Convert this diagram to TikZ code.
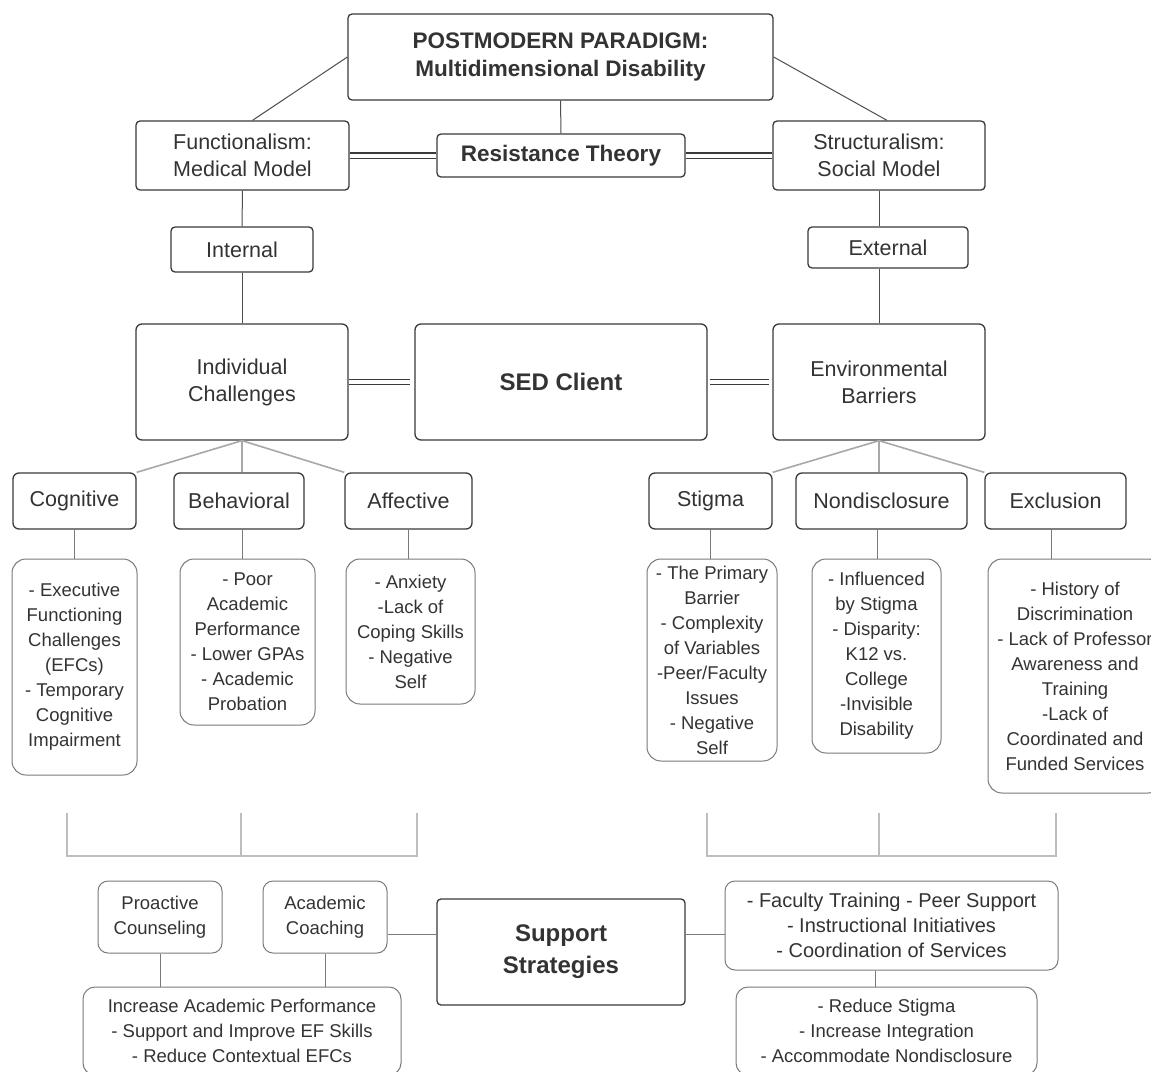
\documentclass[tikz,border=0pt]{standalone}
\usepackage{fontspec}
\setmainfont{Liberation Sans}
\usepackage{xcolor}

\definecolor{ink}{HTML}{333333}
\definecolor{boxline}{HTML}{3A3A3A}
\definecolor{softline}{HTML}{7A7A7A}
\definecolor{fanline}{HTML}{A8A8A8}
\definecolor{braceline}{HTML}{BDBDBD}

\tikzset{
  mainbox/.style={draw=boxline, line width=1.3pt, rounded corners=4pt, align=center, text=ink, inner sep=0pt, font=\fontsize{21.5}{27}\selectfont},
  boldbox/.style={mainbox, font=\fontsize{22.5}{28}\selectfont\bfseries},
  itembox/.style={draw=softline, line width=1pt, rounded corners=14pt, align=center, text=ink, inner sep=0pt, font=\fontsize{18.5}{25}\selectfont},
  link/.style={draw=boxline!90, line width=1pt},
  twin/.style={draw=boxline, line width=1.1pt, double=white, double distance=4pt},
  fan/.style={draw=fanline, line width=1.6pt},
  bracket/.style={draw=braceline, line width=2pt},
}

\begin{document}
\begin{tikzpicture}[x=1pt,y=-1pt]
\useasboundingbox (0,0) rectangle (1151,1071);
\clip (0,0) rectangle (1151,1071);
\fill[white] (0,0) rectangle (1151,1071);

% top level
\node[boldbox, minimum width=425, minimum height=86] (paradigm) at (560.5,57) {POSTMODERN PARADIGM:\\Multidimensional Disability};
\node[mainbox, minimum width=213, minimum height=69] (functional) at (242.5,155.5) {Functionalism:\\Medical Model};
\node[boldbox, minimum width=248, minimum height=43] (resist) at (561,155.5) {Resistance Theory};
\node[mainbox, minimum width=212, minimum height=69] (structural) at (879,155.5) {Structuralism:\\Social Model};

\node[mainbox, minimum width=142, minimum height=45] (internal) at (242,249.5) {Internal};
\node[mainbox, minimum width=160, minimum height=41] (external) at (888,247.5) {External};

\node[mainbox, minimum width=212, minimum height=116, rounded corners=6pt] (individual) at (242,382) {Individual\\Challenges};
\node[boldbox, minimum width=292, minimum height=116, rounded corners=6pt, font=\fontsize{24}{30}\selectfont\bfseries] (sed) at (561,382) {SED Client};
\node[mainbox, minimum width=212, minimum height=116, rounded corners=6pt] (environ) at (879,382) {Environmental\\Barriers};

\draw[link] (paradigm.west) -- ([xshift=10]functional.north);
\draw[link] (paradigm.east) -- ([xshift=8]structural.north);
\draw[link] (paradigm.south) -- (resist.north);
\draw[twin] (functional.east) -- (resist.west);
\draw[twin] (resist.east) -- (structural.west);
\draw[link] (functional.south) -- (internal.north);
\draw[link] (internal.south) -- (individual.north);
\draw[link] (structural.south) -- (structural.south |- external.north);
\draw[link] (external.south -| structural.south) -- (environ.north);
\draw[twin, shorten >=4pt] (individual.east) -- (sed.west);
\draw[twin, shorten <=2pt, shorten >=3pt] (sed.east) -- (environ.west);

% categories
\node[mainbox, minimum width=123, minimum height=56, rounded corners=6pt] (cognitive) at (74.5,501) {Cognitive};
\node[mainbox, minimum width=130, minimum height=56, rounded corners=6pt] (behavioral) at (239,501) {Behavioral};
\node[mainbox, minimum width=127, minimum height=56, rounded corners=6pt] (affective) at (408.5,501) {Affective};
\node[mainbox, minimum width=123, minimum height=56, rounded corners=6pt] (stigma) at (710.5,501) {Stigma};
\node[mainbox, minimum width=171, minimum height=56, rounded corners=6pt] (nondisc) at (881.5,501) {Nondisclosure};
\node[mainbox, minimum width=141, minimum height=56, rounded corners=6pt] (exclusion) at (1055.5,501) {Exclusion};

\draw[fan] (individual.south) -- (cognitive.north east);
\draw[fan] (individual.south) -- (individual.south |- behavioral.north);
\draw[fan] (individual.south) -- (affective.north west);
\draw[fan] (environ.south) -- (stigma.north east);
\draw[fan] (environ.south) -- (environ.south |- nondisc.north);
\draw[fan] (environ.south) -- (exclusion.north west);

% details
\node[itembox, minimum width=125, minimum height=216] (cogitems) at (74.5,667) {- Executive\\Functioning\\Challenges\\(EFCs)\\- Temporary\\Cognitive\\Impairment};
\node[itembox, minimum width=135, minimum height=166] (behitems) at (247.5,642) {- Poor\\Academic\\Performance\\- Lower GPAs\\- Academic\\Probation};
\node[itembox, minimum width=129, minimum height=145] (affitems) at (410.5,631.5) {- Anxiety\\-Lack of\\Coping Skills\\- Negative\\Self};
\node[itembox, minimum width=130, minimum height=202] (stigitems) at (712,660) {- The Primary\\Barrier\\- Complexity\\of Variables\\-Peer/Faculty\\Issues\\- Negative\\Self};
\node[itembox, minimum width=129, minimum height=194] (nonditems) at (876.5,656) {- Influenced\\by Stigma\\- Disparity:\\K12 vs.\\College\\-Invisible\\Disability};
\node[itembox, minimum width=174, minimum height=234] (exclitems) at (1075,676) {- History of\\Discrimination\\- Lack of Professor\\Awareness and\\Training\\-Lack of\\Coordinated and\\Funded Services};

\draw[link, draw=softline] (cognitive.south) -- (cognitive.south |- cogitems.north);
\draw[link, draw=softline] ([xshift=3]behavioral.south) -- ([xshift=3]behavioral.south |- behitems.north);
\draw[link, draw=softline] (affective.south) -- (affective.south |- affitems.north);
\draw[link, draw=softline] (stigma.south) -- (stigma.south |- stigitems.north);
\draw[link, draw=softline] ([xshift=-4]nondisc.south) -- ([xshift=-4]nondisc.south |- nonditems.north);
\draw[link, draw=softline] ([xshift=-4]exclusion.south) -- ([xshift=-4]exclusion.south |- exclitems.north);

% brackets
\draw[bracket] (67,813) -- (67,856) -- (417,856) -- (417,813);
\draw[bracket] (241,813) -- (241,856);
\draw[bracket] (707,813) -- (707,856) -- (1056,856) -- (1056,813);
\draw[bracket] (879,813) -- (879,856);

% support strategies
\node[itembox, rounded corners=10pt, minimum width=124, minimum height=72] (proactive) at (160,917) {Proactive\\Counseling};
\node[itembox, rounded corners=10pt, minimum width=124, minimum height=72] (coaching) at (325,917) {Academic\\Coaching};
\node[mainbox, minimum width=248, minimum height=106, font=\fontsize{24}{32}\selectfont\bfseries] (support) at (561,952) {Support\\Strategies};
\node[itembox, rounded corners=10pt, minimum width=333, minimum height=89, font=\fontsize{20}{25}\selectfont] (faculty) at (891.5,925.5) {- Faculty Training - Peer Support\\- Instructional Initiatives\\- Coordination of Services};
\node[itembox, rounded corners=12pt, minimum width=318, minimum height=88] (outcomes) at (242,1031) {Increase Academic Performance\\- Support and Improve EF Skills\\- Reduce Contextual EFCs};
\node[itembox, rounded corners=12pt, minimum width=301, minimum height=88] (reduce) at (886.5,1031) {- Reduce Stigma\\- Increase Integration\\- Accommodate Nondisclosure};

\draw[link, draw=softline] ([yshift=-17]coaching.east) -- ([yshift=-17]coaching.east -| support.west);
\draw[link, draw=softline] ([yshift=18]support.east) -- ([yshift=18]support.east -| faculty.west);
\draw[link, draw=softline] (proactive.south) -- (proactive.south |- outcomes.north);
\draw[link, draw=softline] (coaching.south) -- (coaching.south |- outcomes.north);
\draw[link, draw=softline] ([xshift=-16]faculty.south) -- ([xshift=-16]faculty.south |- reduce.north);
\end{tikzpicture}
\end{document}
